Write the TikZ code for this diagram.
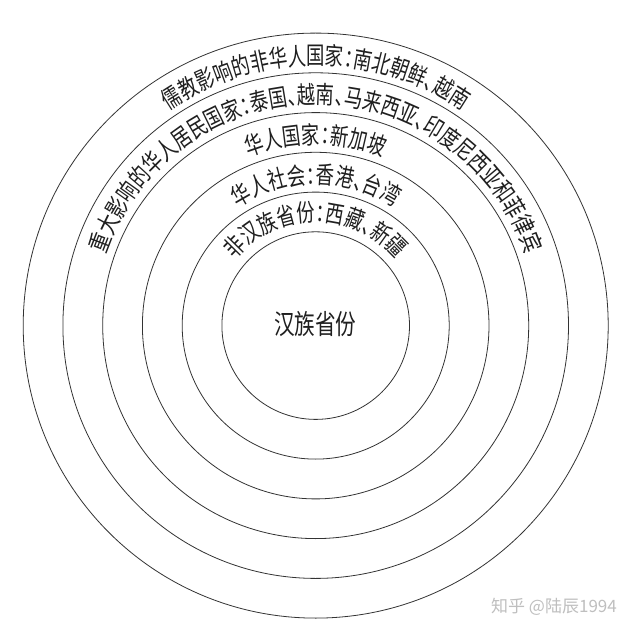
\documentclass[tikz,border=0pt]{standalone}
\usepackage{fontspec}
\usetikzlibrary{decorations.text}
\newfontfamily\cjk[FakeStretch=0.75,RawFeature=+halt]{Noto Sans CJK SC}
\newfontfamily\cjkplain{Noto Sans CJK SC}
\newcommand\arcfont{\cjk\fontsize{24.5}{24.5}\selectfont\color{black!88}}
\begin{document}
\begin{tikzpicture}[x=1pt,y=1pt,
  ring/.style={draw=black!80, line width=0.8pt},
  arctext/.style={decorate, decoration={text along path, text align=center, text={|\arcfont|#1}}}]
\useasboundingbox[fill=white] (0,0) rectangle (640,633);
\coordinate (C) at (315.7,307.4);
% rings
\foreach \r in {93.8,133.5,173.3,213,252.8,292.5}
  \draw[ring] (C) circle[radius=\r];
% texts along arcs (baseline radii)
\path[arctext={非汉族省份：西藏、新疆}] ([shift={(180:104.2)}]C) arc[start angle=180,end angle=0,radius=104.2];
\path[arctext={华人社会：香港、台湾}] ([shift={(180:141.7)}]C) arc[start angle=180,end angle=0,radius=141.7];
\path[arctext={华人国家：新加坡}] ([shift={(180:181.7)}]C) arc[start angle=180,end angle=0,radius=181.7];
\path[arctext={重大影响的华人居民国家：泰国、越南、马来西亚、印度尼西亚和菲律宾}] ([shift={(180:221.7)}]C) arc[start angle=180,end angle=0,radius=221.7];
\path[arctext={儒教影响的非华人国家：南北朝鲜、越南}] ([shift={(180:260.7)}]C) arc[start angle=180,end angle=0,radius=260.7];
% centre
\node[font=\cjk\fontsize{27.5}{28}\selectfont, text=black!88, inner sep=0] (core) at (315.3,308.8) {汉族省份};
% watermark
\node[font=\cjkplain\fontsize{17}{17}\selectfont, text=black!25, inner sep=0] (wm) at (554,26.5) {知乎 @陆辰1994};
\end{tikzpicture}
\end{document}
